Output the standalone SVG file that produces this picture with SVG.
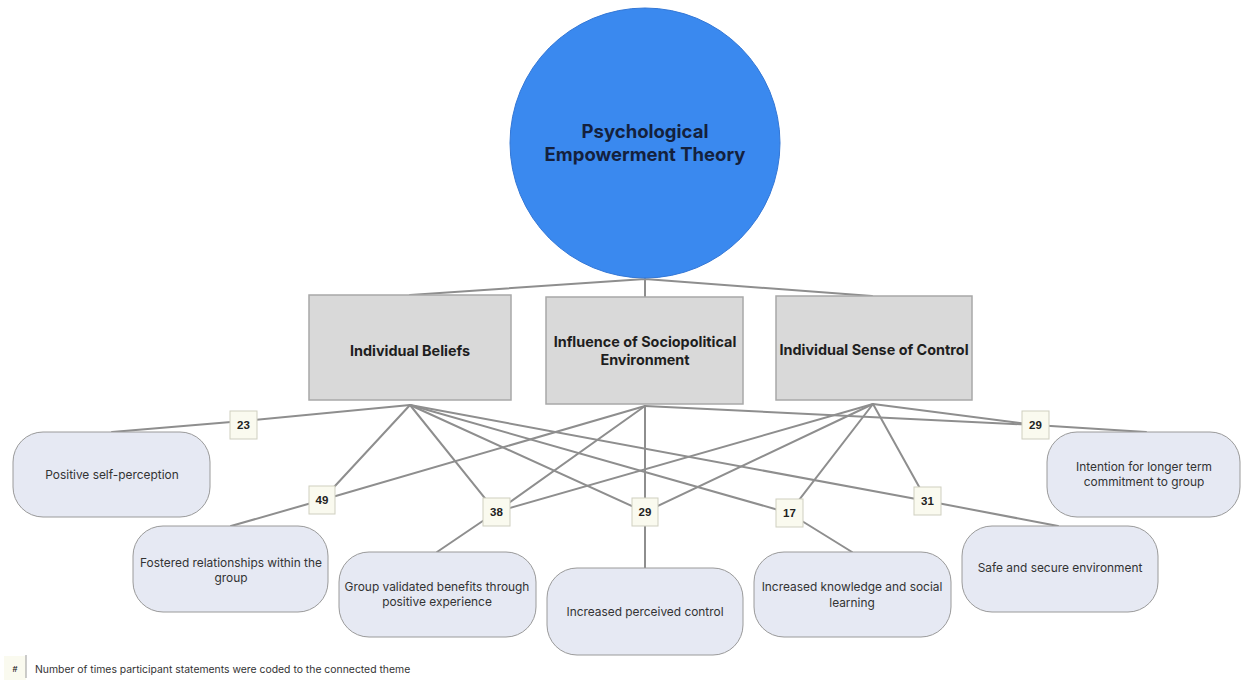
<svg xmlns="http://www.w3.org/2000/svg" width="1241" height="680" viewBox="0 0 1241 680">
<style>
.bg{fill:#ffffff}
.conn{stroke:#8e8e8e;stroke-width:2;fill:none;stroke-linecap:round}
.dim{fill:#d9d9d9;stroke:#a8a8a8;stroke-width:1.5}
.dimt{font-family:Inter,"Open Sans","Liberation Sans",sans-serif;font-weight:700;font-size:14.4px;fill:#1e1e1e;text-anchor:middle}
.theme{fill:#e6e9f3;stroke:#9a9a9a;stroke-width:1}
.themet{font-family:Inter,"Open Sans","Liberation Sans",sans-serif;font-size:11.9px;fill:#333333;text-anchor:middle}
.badge{fill:#fafaef;stroke:#cfcfc0;stroke-width:1}
.badget{font-family:"Liberation Sans",Arial,sans-serif;font-weight:700;font-size:11.5px;fill:#222222;text-anchor:middle}
.roott{font-family:Inter,"Open Sans","Liberation Sans",sans-serif;font-weight:700;font-size:18.5px;fill:#14213d;text-anchor:middle}
.legt{font-family:Inter,"Open Sans","Liberation Sans",sans-serif;font-size:10.4px;fill:#333333}
</style>
<rect class="bg" x="0" y="0" width="1241" height="680"/>
<g id="connectors">
  <path class="conn" d="M645,278 V297 M645,279 L410,295 M645,279 L872,296"/>
  <path class="conn" d="M410,405 L243,421 L112,432"/>
  <path class="conn" d="M410,405 L322,500"/>
  <path class="conn" d="M410,405 L496,512"/>
  <path class="conn" d="M410,405 L645,512"/>
  <path class="conn" d="M410,405 L789,513"/>
  <path class="conn" d="M410,405 L927,501"/>
  <path class="conn" d="M645,406 L322,500"/>
  <path class="conn" d="M645,406 L496,512"/>
  <path class="conn" d="M645,406 L645,512"/>
  <path class="conn" d="M645,406 L1035,425"/>
  <path class="conn" d="M873,404 L496,512"/>
  <path class="conn" d="M873,404 L645,512"/>
  <path class="conn" d="M873,404 L789,513"/>
  <path class="conn" d="M873,404 L927,501"/>
  <path class="conn" d="M873,404 L1035,425"/>
  <path class="conn" d="M322,500 L231,526"/>
  <path class="conn" d="M496,512 L437,552"/>
  <path class="conn" d="M645,512 L645,568"/>
  <path class="conn" d="M789,513 L852,552"/>
  <path class="conn" d="M927,501 L1058,526"/>
  <path class="conn" d="M1035,425 L1146,432"/>
</g>
<g id="root">
  <circle cx="645" cy="143" r="135" fill="#3a89ef" stroke="#3377d6" stroke-width="1"/>
  <text class="roott" x="645" y="138">Psychological</text>
  <text class="roott" x="645" y="161">Empowerment Theory</text>
</g>
<g id="dim-beliefs">
  <rect class="dim" x="309" y="295" width="202" height="105"/>
  <text class="dimt" x="410" y="356">Individual Beliefs</text>
</g>
<g id="dim-sociopolitical">
  <rect class="dim" x="546" y="297" width="197" height="107"/>
  <text class="dimt" x="645" y="347">Influence of Sociopolitical</text>
  <text class="dimt" x="645" y="365">Environment</text>
</g>
<g id="dim-control">
  <rect class="dim" x="776" y="296" width="196" height="104"/>
  <text class="dimt" x="874" y="355">Individual Sense of Control</text>
</g>
<g id="theme-self">
  <rect class="theme" x="13" y="432" width="197" height="85" rx="30"/>
  <text class="themet" x="112" y="479">Positive self-perception</text>
</g>
<g id="theme-relationships">
  <rect class="theme" x="133" y="526" width="195" height="86" rx="30"/>
  <text class="themet" x="231" y="567">Fostered relationships within the</text>
  <text class="themet" x="231" y="582">group</text>
</g>
<g id="theme-validated">
  <rect class="theme" x="339" y="552" width="197" height="85" rx="30"/>
  <text class="themet" x="437" y="591">Group validated benefits through</text>
  <text class="themet" x="437" y="606">positive experience</text>
</g>
<g id="theme-control">
  <rect class="theme" x="547" y="568" width="196" height="87" rx="30"/>
  <text class="themet" x="645" y="616">Increased perceived control</text>
</g>
<g id="theme-knowledge">
  <rect class="theme" x="754" y="552" width="197" height="85" rx="30"/>
  <text class="themet" x="852" y="591">Increased knowledge and social</text>
  <text class="themet" x="852" y="607">learning</text>
</g>
<g id="theme-safe">
  <rect class="theme" x="962" y="526" width="196" height="86" rx="30"/>
  <text class="themet" x="1060" y="572">Safe and secure environment</text>
</g>
<g id="theme-intention">
  <rect class="theme" x="1047" y="432" width="193" height="85" rx="30"/>
  <text class="themet" x="1144" y="471">Intention for longer term</text>
  <text class="themet" x="1144" y="486">commitment to group</text>
</g>
<g id="badge-23"><rect class="badge" x="230" y="411" width="27" height="28"/><text class="badget" x="243.5" y="429">23</text></g>
<g id="badge-49"><rect class="badge" x="309" y="486" width="26" height="28"/><text class="badget" x="322" y="504">49</text></g>
<g id="badge-38"><rect class="badge" x="483" y="498" width="27" height="28"/><text class="badget" x="496.5" y="516">38</text></g>
<g id="badge-29a"><rect class="badge" x="632" y="498" width="26" height="28"/><text class="badget" x="645" y="516">29</text></g>
<g id="badge-17"><rect class="badge" x="776" y="499" width="27" height="28"/><text class="badget" x="789.5" y="517">17</text></g>
<g id="badge-31"><rect class="badge" x="914" y="487" width="27" height="28"/><text class="badget" x="927.5" y="505">31</text></g>
<g id="badge-29b"><rect class="badge" x="1022" y="411" width="27" height="28"/><text class="badget" x="1035.5" y="429">29</text></g>
<g id="legend">
  <rect x="4" y="656" width="22" height="24" fill="#fafaef"/>
  <text class="badget" x="15" y="672" style="font-size:9px">#</text>
  <line x1="26" y1="655" x2="26" y2="678" stroke="#9a9a9a" stroke-width="1"/>
  <text class="legt" x="35" y="673">Number of times participant statements were coded to the connected theme</text>
</g>
</svg>
